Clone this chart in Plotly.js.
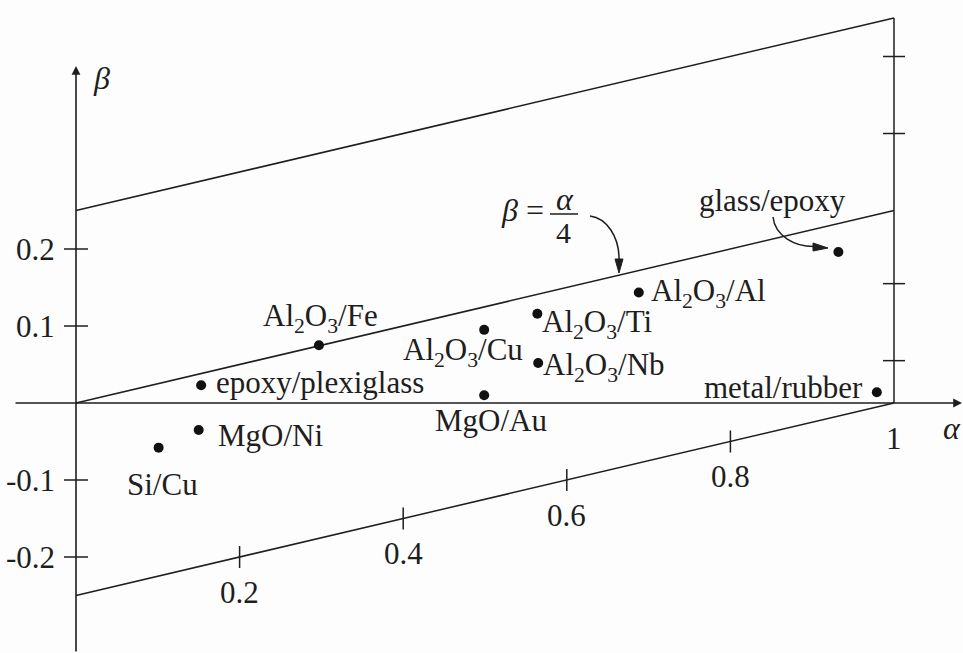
<!DOCTYPE html>
<html><head><meta charset="utf-8">
<script src="https://cdn.plot.ly/plotly-3.0.1.min.js"></script>
<style>html,body{margin:0;padding:0;background:#fff;}</style>
</head><body><div id="chart" style="width:963px;height:653px;"></div>
<script>
// ---- data ----
const materials = ['Si/Cu','MgO/Ni','epoxy/plexiglass','Al<sub>2</sub>O<sub>3</sub>/Fe','Al<sub>2</sub>O<sub>3</sub>/Cu','MgO/Au','Al<sub>2</sub>O<sub>3</sub>/Ti','Al<sub>2</sub>O<sub>3</sub>/Nb','Al<sub>2</sub>O<sub>3</sub>/Al','glass/epoxy','metal/rubber'];
const alphaVals = [0.101, 0.150, 0.153, 0.297, 0.499, 0.499, 0.564, 0.565, 0.688, 0.932, 0.979];
const betaVals  = [-0.058, -0.035, 0.023, 0.075, 0.095, 0.010, 0.116, 0.052, 0.1435, 0.196, 0.014];
const alphaTicks = [0.2, 0.4, 0.6, 0.8, 1];
const alphaTickLabels = ['0.2','0.4','0.6','0.8','1'];
const betaTicks = [0.2, 0.1, -0.1, -0.2];
const betaTickLabels = ['0.2','0.1','-0.1','-0.2'];
const rightTicks = [0.055, 0.155, 0.35, 0.45];
const boundaryAlpha = [0, 1];
const boundaryOffsets = [0.25, 0, -0.25];
const slope = 0.25;

// ---- styling / placement (not data) ----
const W = 963, H = 653;
const X0 = 76, XS = 818, Y0 = 403, YS = 770;   // pixel mapping
const X = px => (px - X0) / XS;
const Y = py => (Y0 - py) / YS;
const INK = '#1e1e1e';
const FONT = 'Liberation Serif, Times New Roman, serif';
const FS = 31;
// label offsets [xanchor, xshift, yshift]
const labelPos = [
  ['center', 4, -37], ['left', 17, -6], ['left', 13, 3], ['center', 2, 27],
  ['center', -21, -22], ['center', 7, -25], ['left', 3, -10], ['left', 3, -4],
  ['left', 10, 0], ['center', -66, 52], ['right', -12, 5]
];
const lineBeta = (a, c) => slope * a + c;

const traces = [];
boundaryOffsets.forEach(c => {
  traces.push({x: boundaryAlpha, y: boundaryAlpha.map(a => lineBeta(a, c)), mode: 'lines',
    line: {color: INK, width: 1.5}, hoverinfo: 'skip', showlegend: false});
});
traces.push({x: [1, 1], y: [lineBeta(1, boundaryOffsets[2]), lineBeta(1, boundaryOffsets[0])], mode: 'lines',
  line: {color: INK, width: 1.5}, hoverinfo: 'skip', showlegend: false});
traces.push({x: alphaVals, y: betaVals, mode: 'markers', marker: {color: '#111', size: 10},
  showlegend: false, hoverinfo: 'skip'});

const annotations = [];
// axes arrows
annotations.push({x: X(962), y: 0, ax: X(14), ay: 0, axref: 'x', ayref: 'y', xref: 'x', yref: 'y',
  text: '', showarrow: true, arrowhead: 2, arrowsize: 1.1, arrowwidth: 1.6, arrowcolor: INK, standoff: 0});
annotations.push({x: 0, y: Y(66), ax: 0, ay: Y(653), axref: 'x', ayref: 'y', xref: 'x', yref: 'y',
  text: '', showarrow: true, arrowhead: 2, arrowsize: 1.1, arrowwidth: 1.6, arrowcolor: INK, standoff: 0});
const txt = (px, py, text, size) => ({xref: 'paper', yref: 'paper', x: px / W, y: 1 - py / H, text: text,
  showarrow: false, xanchor: 'center', yanchor: 'middle', font: {family: FONT, size: size, color: INK}});
// axis titles
annotations.push(txt(101, 78, '<i>β</i>', 32));
annotations.push(txt(952, 428, '<i>α</i>', 32));
// material labels
materials.forEach((m, i) => {
  const p = labelPos[i];
  annotations.push({x: alphaVals[i], y: betaVals[i], xref: 'x', yref: 'y', text: m, showarrow: false,
    xanchor: p[0], yanchor: 'middle', xshift: p[1], yshift: p[2],
    font: {family: FONT, size: FS, color: INK}});
});
// alpha tick labels along lower edge
alphaTicks.forEach((a, i) => {
  annotations.push({x: a, y: lineBeta(a, boundaryOffsets[2]), xref: 'x', yref: 'y', text: alphaTickLabels[i],
    showarrow: false, xanchor: 'center', yanchor: 'middle', yshift: -35,
    font: {family: FONT, size: FS, color: INK}});
});
// beta tick labels
betaTicks.forEach((b, i) => {
  annotations.push({x: 0, y: b, xref: 'x', yref: 'y', text: betaTickLabels[i], showarrow: false,
    xanchor: 'right', yanchor: 'middle', xshift: -19, font: {family: FONT, size: FS, color: INK}});
});
// formula beta = alpha/4
annotations.push(txt(522, 210, '<i>β</i> =', 32));
annotations.push(txt(565, 199, '<i>α</i>', 32));
annotations.push(txt(563, 232, '4', 30));

const shapes = [];
const pth = pts => pts.map(p => X(p[0]) + ',' + Y(p[1])).join(' ');
// y ticks crossing the axis
betaTicks.forEach(b => shapes.push({type: 'line', xref: 'x', yref: 'y', xsizemode: 'pixel', xanchor: 0,
  x0: -12, x1: 12, y0: b, y1: b, line: {color: INK, width: 1.5}}));
// alpha ticks on lower edge
alphaTicks.filter(a => a < 1).forEach(a => shapes.push({type: 'line', xref: 'x', yref: 'y', ysizemode: 'pixel',
  yanchor: lineBeta(a, boundaryOffsets[2]), y0: -11, y1: 11, x0: a, x1: a, line: {color: INK, width: 1.5}}));
// right edge ticks
rightTicks.forEach(b => shapes.push({type: 'line', xref: 'x', yref: 'y', xsizemode: 'pixel', xanchor: 1,
  x0: -11, x1: 11, y0: b, y1: b, line: {color: INK, width: 1.5}}));
// fraction bar
shapes.push({type: 'line', xref: 'paper', yref: 'paper', x0: 550 / W, x1: 578 / W, y0: 1 - 214 / H, y1: 1 - 214 / H,
  line: {color: INK, width: 1.5}});
// curved arrows
shapes.push({type: 'path', xref: 'x', yref: 'y', line: {color: INK, width: 1.5},
  path: 'M ' + pth([[590, 216]]) + ' C ' + pth([[606, 218], [620, 236], [619, 262]])});
shapes.push({type: 'path', xref: 'x', yref: 'y', line: {color: INK, width: 1}, fillcolor: INK,
  path: 'M ' + pth([[619, 273]]) + ' L ' + pth([[615, 259]]) + ' L ' + pth([[623, 259]]) + ' Z'});
shapes.push({type: 'path', xref: 'x', yref: 'y', line: {color: INK, width: 1.5},
  path: 'M ' + pth([[773, 217]]) + ' C ' + pth([[775, 236], [795, 247], [815, 246.5]])});
shapes.push({type: 'path', xref: 'x', yref: 'y', line: {color: INK, width: 1}, fillcolor: INK,
  path: 'M ' + pth([[828, 248]]) + ' L ' + pth([[813, 243]]) + ' L ' + pth([[813, 251]]) + ' Z'});

const layout = {
  width: W, height: H, margin: {l: 0, r: 0, t: 0, b: 0},
  paper_bgcolor: '#fdfdfd', plot_bgcolor: '#fdfdfd', showlegend: false,
  xaxis: {range: [X(0), X(W)], visible: false, fixedrange: true},
  yaxis: {range: [Y(H), Y(0)], visible: false, fixedrange: true},
  annotations: annotations, shapes: shapes
};
Plotly.newPlot('chart', traces, layout, {displayModeBar: false, staticPlot: true});
</script></body></html>
